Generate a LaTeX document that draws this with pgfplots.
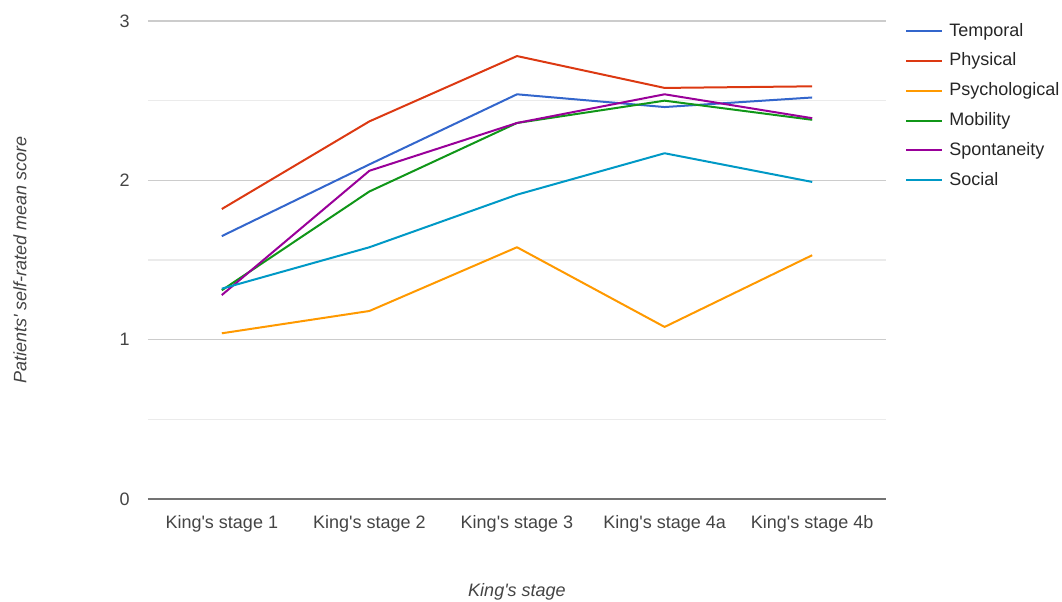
\documentclass[border=0pt]{standalone}
\usepackage{pgfplots}
\pgfplotsset{compat=1.18}
\usepackage{fontspec}
\setmainfont{Liberation Sans}
\newcommand{\q}{\textquotesingle}

\definecolor{cTemporal}{HTML}{3366CC}
\definecolor{cPhysical}{HTML}{DC3912}
\definecolor{cPsych}{HTML}{FF9900}
\definecolor{cMobility}{HTML}{109618}
\definecolor{cSpont}{HTML}{990099}
\definecolor{cSocial}{HTML}{0099C6}
\definecolor{txt}{HTML}{444444}

\begin{document}
\fontsize{9}{11}\selectfont
\begin{tikzpicture}
\path[use as bounding box] (-74pt,-51pt) rectangle (457pt,249.5pt);
\begin{axis}[
  at={(0,0)}, anchor=south west,
  width=369pt, height=239pt, scale only axis,
  xmin=-0.5, xmax=4.5, ymin=0, ymax=3,
  xtick={0,1,2,3,4},
  xticklabels={King\q s stage 1, King\q s stage 2, King\q s stage 3, King\q s stage 4a, King\q s stage 4b},
  ytick={0,1,2,3}, minor ytick={0.5,1.5,2.5},
  ymajorgrids, yminorgrids,
  major grid style={color=black!20, line width=0.6pt},
  minor grid style={color=black!8, line width=0.6pt},
  axis line style={draw=none},
  major tick length=0pt, minor tick length=0pt,
  tick label style={font=\fontsize{9}{11}\selectfont, text=txt},
  xticklabel style={inner sep=0pt, anchor=north, yshift=-8pt},
  yticklabel style={inner sep=0pt, anchor=east, xshift=-9pt},
  /pgf/number format/assume math mode=true,
  xlabel={\itshape King\q s stage},
  xlabel style={at={(axis description cs:0.5,0)}, anchor=base, yshift=-48.5pt, text=txt, font=\fontsize{9}{11}\selectfont},
  ylabel={\itshape Patients\q{} self-rated mean score},
  ylabel style={at={(axis description cs:0,0.5)}, anchor=center, yshift=64pt, text=txt, font=\fontsize{9}{11}\selectfont},
  every axis plot/.append style={line width=1pt, line join=round},
  legend image code/.code={\draw[#1] (0pt,0.2pt) -- (18pt,0.2pt);},
  legend cell align=left,
  legend style={at={(1,1)}, anchor=north west, xshift=9.5pt, yshift=-0.85pt,
    draw=none, fill=none, inner sep=0pt, row sep=6.4pt, column sep=3pt,
    nodes={inner sep=0pt, text height=6.5pt, text depth=2pt, text=black!85, font=\fontsize{9}{11}\selectfont}},
]
\addplot[cTemporal] coordinates {(0,1.65) (1,2.10) (2,2.54) (3,2.46) (4,2.52)};
\addlegendentry{Temporal}
\addplot[cPhysical] coordinates {(0,1.82) (1,2.37) (2,2.78) (3,2.58) (4,2.59)};
\addlegendentry{Physical}
\addplot[cPsych] coordinates {(0,1.04) (1,1.18) (2,1.58) (3,1.08) (4,1.53)};
\addlegendentry{Psychological}
\addplot[cMobility] coordinates {(0,1.31) (1,1.93) (2,2.36) (3,2.50) (4,2.38)};
\addlegendentry{Mobility}
\addplot[cSpont] coordinates {(0,1.28) (1,2.06) (2,2.36) (3,2.54) (4,2.39)};
\addlegendentry{Spontaneity}
\addplot[cSocial] coordinates {(0,1.32) (1,1.58) (2,1.91) (3,2.17) (4,1.99)};
\addlegendentry{Social}
\draw[black!55, line width=0.7pt] (axis cs:-0.5,0) -- (axis cs:4.5,0);
\end{axis}
\end{tikzpicture}
\end{document}
